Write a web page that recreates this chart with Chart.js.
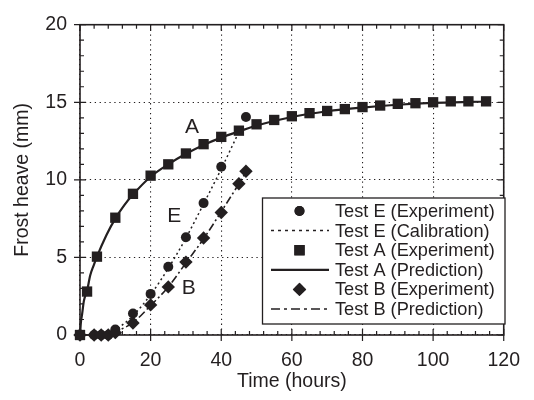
<!DOCTYPE html>
<html>
<head>
<meta charset="utf-8">
<script src="https://cdn.jsdelivr.net/npm/chart.js@4"></script>
<style>
  html, body { margin: 0; padding: 0; background: #fff; }
  #wrap { width: 534px; height: 400px; }
</style>
</head>
<body>
<div id="wrap"><canvas id="c" width="534" height="400"></canvas></div>
<script>
// ---- data ----
const timeE = [0, 4, 6, 8, 10, 15, 20, 25, 30, 35, 40, 47];
const heaveE = [0, 0, 0, 0, 0.35, 1.38, 2.65, 4.4, 6.3, 8.5, 10.85, 14.05];

const timeCalE = [0, 8, 10, 15, 20, 25, 30, 35, 40, 44.5];
const heaveCalE = [0, 0, 0.3, 1.25, 2.6, 4.3, 6.25, 8.45, 10.7, 12.85];

const timeA = [0, 2, 4.8, 10, 15, 20, 25, 30, 35, 40, 45, 50, 55, 60, 65, 70, 75, 80, 85, 90, 95, 100, 105, 110, 115];
const heaveA = [0, 2.8, 5.05, 7.56, 9.1, 10.27, 11.0, 11.7, 12.3, 12.77, 13.17, 13.58, 13.86, 14.1, 14.3, 14.44, 14.56, 14.69, 14.79, 14.9, 14.94, 15.0, 15.06, 15.06, 15.06];

const timePredA = [0, 0.25, 0.6, 1.1, 2, 2.9, 3.9, 4.8, 7.5, 10, 12.5, 15, 20, 25, 30, 35, 40, 45, 50, 60, 70, 80, 90, 100, 110, 115];
const heavePredA = [0, 0.8, 1.35, 2.2, 2.85, 3.85, 4.5, 5.05, 6.45, 7.5, 8.35, 9.05, 10.2, 11.0, 11.68, 12.25, 12.72, 13.12, 13.5, 14.05, 14.42, 14.66, 14.84, 14.96, 15.02, 15.04];

const timeB = [0, 4, 6, 8, 10, 15, 20, 25, 30, 35, 40, 45, 47];
const heaveB = [0, 0, 0, 0, 0.15, 0.77, 1.94, 3.1, 4.7, 6.25, 7.9, 9.75, 10.55];

const timePredB = [0, 8, 10, 15, 20, 25, 30, 35, 40, 45, 47];
const heavePredB = [0, 0, 0.2, 0.8, 1.9, 3.1, 4.65, 6.2, 7.95, 9.75, 10.5];

const seriesLabels = ['Test E (Experiment)', 'Test E (Calibration)', 'Test A (Experiment)', 'Test A (Prediction)', 'Test B (Experiment)', 'Test B (Prediction)'];

const curveLabels = [
  { text: 'A', x: 31.7, y: 13.4 },
  { text: 'E', x: 26.7, y: 7.67 },
  { text: 'B', x: 30.8, y: 3.02 }
];

const xTickLabels = [0, 20, 40, 60, 80, 100, 120];
const yTickLabels = [0, 5, 10, 15, 20];

// ---- helpers ----
const INK = '#231f20';
const FONT = '"Liberation Sans", Arial, Helvetica, sans-serif';
function pts(xs, ys) { return xs.map((x, i) => ({ x: x, y: ys[i] })); }

const datasets = [
  { label: seriesLabels[1], data: pts(timeCalE, heaveCalE), showLine: true, borderColor: INK, borderWidth: 1.5, borderDash: [2, 3], pointRadius: 0, cubicInterpolationMode: 'monotone', legDash: [3, 4], legWidth: 1.5, order: 6, clip: false },
  { label: seriesLabels[3], data: pts(timePredA, heavePredA), showLine: true, borderColor: INK, borderWidth: 2.2, pointRadius: 0, cubicInterpolationMode: 'monotone', legDash: [], legWidth: 2.2, order: 5, clip: false },
  { label: seriesLabels[5], data: pts(timePredB, heavePredB), showLine: true, borderColor: INK, borderWidth: 1.6, borderDash: [8, 3, 2, 3], pointRadius: 0, cubicInterpolationMode: 'monotone', legDash: [9, 4, 3, 4], legWidth: 1.6, order: 4, clip: false },
  { label: seriesLabels[0], data: pts(timeE, heaveE), showLine: false, pointStyle: 'circle', pointRadius: 5, backgroundColor: INK, borderColor: INK, borderWidth: 0, order: 3, clip: false },
  { label: seriesLabels[2], data: pts(timeA, heaveA), showLine: false, pointStyle: 'rect', pointRadius: 7.3, backgroundColor: INK, borderColor: INK, borderWidth: 0, order: 2, clip: false },
  { label: seriesLabels[4], data: pts(timeB, heaveB), showLine: false, pointStyle: 'rectRot', pointRadius: 6.7, backgroundColor: INK, borderColor: INK, borderWidth: 0, order: 1, clip: false }
];

// frame and ticks
const framePlugin = {
  id: 'frame',
  beforeDatasetsDraw(chart) {
    const { ctx, chartArea: a, scales: { x, y } } = chart;
    ctx.save();
    ctx.strokeStyle = INK;
    ctx.lineWidth = 1.6;
    ctx.strokeRect(a.left, a.top, a.right - a.left, a.bottom - a.top);
    ctx.lineWidth = 1.2;
    ctx.beginPath();
    for (let v = 0; v <= 120; v += 4) {
      const px = x.getPixelForValue(v);
      const major = v % 20 === 0;
      ctx.moveTo(px, a.bottom + (major ? 6 : 0));
      ctx.lineTo(px, a.bottom - (major ? 6 : 4));
      ctx.moveTo(px, a.top);
      ctx.lineTo(px, a.top + (major ? 6 : 4));
    }
    for (let v = 0; v <= 20; v += 1) {
      const py = y.getPixelForValue(v);
      const major = v % 5 === 0;
      ctx.moveTo(a.left - (major ? 6 : 0), py);
      ctx.lineTo(a.left + (major ? 6 : 4), py);
      ctx.moveTo(a.right, py);
      ctx.lineTo(a.right - (major ? 6 : 4), py);
    }
    ctx.stroke();
    ctx.restore();
  },
  afterDatasetsDraw(chart) {
    const { ctx, scales: { x, y } } = chart;
    ctx.save();
    // curve labels
    ctx.fillStyle = INK;
    ctx.font = '21px ' + FONT;
    ctx.textAlign = 'center';
    ctx.textBaseline = 'middle';
    curveLabels.forEach(l => ctx.fillText(l.text, x.getPixelForValue(l.x), y.getPixelForValue(l.y)));

    // legend box
    const bx = 262.5, by = 198, bw = 242.5, bh = 126;
    ctx.fillStyle = '#fff';
    ctx.fillRect(bx, by, bw, bh);
    ctx.strokeStyle = INK;
    ctx.lineWidth = 1.3;
    ctx.strokeRect(bx, by, bw, bh);
    const order = [3, 0, 4, 1, 5, 2];
    const rows = [211, 230.6, 250.2, 269.8, 289.4, 309];
    ctx.font = '18.2px ' + FONT;
    ctx.textAlign = 'left';
    ctx.textBaseline = 'middle';
    order.forEach((di, i) => {
      const ds = chart.data.datasets[di];
      const ry = rows[i];
      ctx.fillStyle = INK;
      ctx.strokeStyle = INK;
      if (ds.showLine) {
        ctx.lineWidth = ds.legWidth;
        ctx.setLineDash(ds.legDash);
        ctx.beginPath();
        ctx.moveTo(271, ry);
        ctx.lineTo(329, ry);
        ctx.stroke();
        ctx.setLineDash([]);
      } else {
        Chart.helpers.drawPoint(ctx, { pointStyle: ds.pointStyle, radius: ds.pointRadius, rotation: 0, borderWidth: 0 }, 299.5, ry);
        ctx.fill();
      }
      ctx.fillStyle = INK;
      ctx.fillText(ds.label, 335, ry + 1);
    });
    ctx.restore();
  }
};

Chart.defaults.font.family = FONT;
Chart.defaults.color = INK;

new Chart(document.getElementById('c'), {
  type: 'scatter',
  data: { datasets: datasets },
  options: {
    responsive: false,
    animation: false,
    events: [],
    layout: { padding: { top: 15, right: 19, left: 0, bottom: 0 } },
    plugins: { legend: { display: false }, tooltip: { enabled: false } },
    scales: {
      x: {
        type: 'linear', min: 0, max: 120,
        afterBuildTicks(s) { s.ticks = xTickLabels.map(v => ({ value: v })); },
        afterFit(s) { s.height = 65; },
        ticks: { padding: 14, font: { size: 19.5 }, color: INK, maxRotation: 0 },
        grid: { color: INK, lineWidth: 1.1, drawTicks: false },
        border: { display: false, dash: [1.3, 3.6] },
        title: { display: true, text: 'Time (hours)', font: { size: 19.5 }, color: INK, padding: { top: 0, bottom: 7 } }
      },
      y: {
        type: 'linear', min: 0, max: 20,
        afterBuildTicks(s) { s.ticks = yTickLabels.map(v => ({ value: v })); },
        afterFit(s) { s.width = 80; },
        ticks: { padding: 13, font: { size: 19.5 }, color: INK },
        grid: { color: INK, lineWidth: 1.1, drawTicks: false },
        border: { display: false, dash: [1.3, 3.6] },
        title: { display: true, text: 'Frost heave (mm)', font: { size: 19.5 }, color: INK, padding: { top: 11, bottom: 0 } }
      }
    }
  },
  plugins: [framePlugin]
});
</script>
</body>
</html>
